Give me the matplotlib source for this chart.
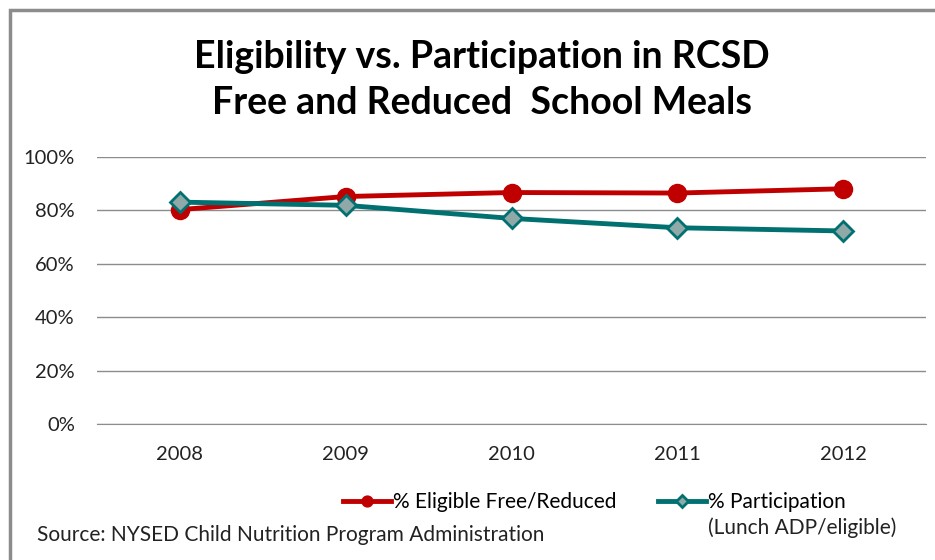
import matplotlib.pyplot as plt
from matplotlib.patches import Rectangle
from matplotlib.ticker import PercentFormatter

plt.rcParams['font.family'] = ['Lato', 'DejaVu Sans']

years = ['2008', '2009', '2010', '2011', '2012']
eligible = [80.3, 85.2, 86.7, 86.5, 88.1]
participation = [83.1, 81.9, 77.0, 73.5, 72.3]

W, H = 935, 560
fig = plt.figure(figsize=(W / 100, H / 100), dpi=100)
ax = fig.add_axes([97 / W, 1 - 424 / H, (926 - 97) / W, (424 - 157) / H])

x = range(len(years))
ax.plot(x, eligible, color='#C00000', lw=3.5, marker='o', ms=13,
        label='% Eligible Free/Reduced', zorder=3)
ax.plot(x, participation, color='#007070', lw=3.5, marker='D', ms=10,
        mfc='#8FA8A8', mec='#007070', mew=2,
        label='% Participation', zorder=3)

ax.set_xlim(-0.5, len(years) - 0.5)
ax.set_ylim(0, 100)
ax.set_yticks(range(0, 101, 20))
ax.yaxis.set_major_formatter(PercentFormatter(decimals=0))
ax.set_xticks(list(x))
ax.set_xticklabels(years)
ax.grid(axis='y', color='#8c8c8c', lw=1)
ax.set_axisbelow(True)
for s in ['top', 'right', 'left']:
    ax.spines[s].set_visible(False)
ax.spines['bottom'].set_color('#8c8c8c')
ax.tick_params(length=0, labelsize=14.5, colors='#222222')
ax.tick_params(axis='y', pad=16)
ax.tick_params(axis='x', pad=16)

fig.text(0.515, 1 - 80 / H, 'Eligibility vs. Participation in RCSD\nFree and Reduced  School Meals',
         ha='center', va='center', fontsize=27, fontweight='bold', linespacing=1.45)

leg = fig.legend(loc='center left', bbox_to_anchor=(343 / W, 1 - 502 / H), ncol=2,
                 frameon=False, fontsize=15, handlelength=2.3, handletextpad=0.1,
                 columnspacing=2.0, borderaxespad=0, borderpad=0, markerscale=0.6)

fig.canvas.draw()
bb = leg.get_texts()[1].get_window_extent()
fig.text(bb.x0 / W, 1 - 528 / H, '(Lunch ADP/eligible)', ha='left', va='center',
         fontsize=15, color='#222222')

fig.text(37 / W, 1 - 535 / H, 'Source: NYSED Child Nutrition Program Administration',
         ha='left', va='center', fontsize=15, color='#222222')

fig.patches.append(Rectangle((10 / W, -0.1), 1.2, 1 - 10 / H + 0.1,
                             transform=fig.transFigure, fill=False,
                             ec='#8c8c8c', lw=2.5))

fig.savefig('out.png', dpi=100)
